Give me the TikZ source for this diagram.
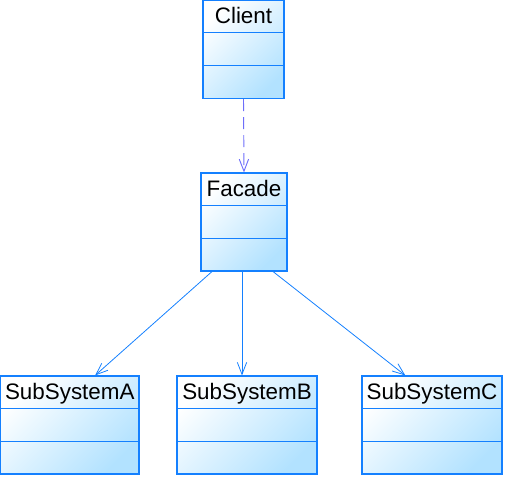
\documentclass[tikz,border=0pt]{standalone}
\usepackage{fontspec}
\setmainfont{Liberation Sans}
\usetikzlibrary{arrows.meta, positioning, calc}
\definecolor{umlblue}{RGB}{20,128,255}
\definecolor{umlfill}{RGB}{178,226,255}
\definecolor{umldash}{RGB}{110,110,250}

\begin{document}
\begin{tikzpicture}[x=0.75pt, y=-0.75pt,
    classbox/.style={rectangle, draw=umlblue, top color=white, bottom color=umlfill,
                     shading angle=45, minimum width=#1*0.75pt, minimum height=73.5pt,
                     inner sep=0pt, line width=0.8pt},
    title/.style={anchor=base, font=\fontsize{16.8pt}{18pt}\selectfont, inner sep=0pt},
    classline/.style={draw=umlblue, line width=0.8pt},
    assoc/.style={draw=umlblue, line width=0.6pt, -{Straight Barb[length=9pt, width=7pt]}},
    dep/.style={draw=umldash, line width=0.7pt, dash pattern=on 9pt off 4.5pt,
                -{Straight Barb[length=9pt, width=7pt]}}
]
\useasboundingbox (0,0) rectangle (506,477);
\node[classbox=81] (client) at (243.5,49.5) {};
\node[classbox=86] (facade) at (244,222) {};
\node[classbox=138.5] (subA) at (69.75,425) {};
\node[classbox=140] (subB) at (247,425) {};
\node[classbox=140] (subC) at (432,425) {};
% compartments and class names
\foreach \n/\t in {client/Client, facade/Facade, subA/SubSystemA, subB/SubSystemB, subC/SubSystemC}{
  \draw[classline] ([yshift=-24.75pt]\n.north west) -- ([yshift=-24.75pt]\n.north east);
  \draw[classline] ([yshift=-49.5pt]\n.north west) -- ([yshift=-49.5pt]\n.north east);
  \node[title] (\n-name) at ([yshift=-18pt]\n.north) {\t};
}
\draw[dep] (client.south) -- (facade.north);
\draw[assoc] ([xshift=-24pt]facade.south) -- ([xshift=19pt]subA.north);
\draw[assoc] ([xshift=-1.5pt]facade.south) -- ([xshift=-1.5pt]facade.south |- subB.north);
\draw[assoc] ([xshift=21.75pt]facade.south) -- ([xshift=-20pt]subC.north);
\end{tikzpicture}
\end{document}
